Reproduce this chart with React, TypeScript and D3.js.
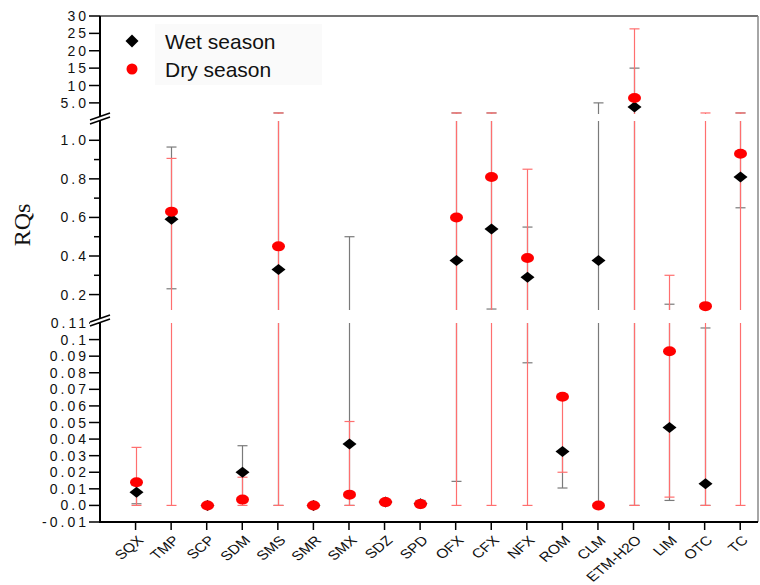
import React, { useEffect, useRef } from 'react';
import * as d3 from 'd3';

// Categories along the x axis
const categories = ['SQX', 'TMP', 'SCP', 'SDM', 'SMS', 'SMR', 'SMX', 'SDZ', 'SPD', 'OFX', 'CFX', 'NFX', 'ROM', 'CLM', 'ETM-H2O', 'LIM', 'OTC', 'TC'];

// Wet season (black diamonds) with low / high error whiskers
const wetValues = [0.008, 0.59, 0, 0.02, 0.33, 0, 0.037, 0.002, 0.001, 0.377, 0.54, 0.29, 0.0325, 0.377, 3.8, 0.047, 0.013, 0.81];
const wetLow = [0.001, 0.23, 0, 0.004, 0, 0, 0, 0.001, 0, 0.0145, 0.125, 0.086, 0.0105, 0, 0, 0.003, 0, 0.65];
const wetHigh = [0.012, 0.965, 0, 0.036, 2.1, 0, 0.5, 0.003, 0.003, 2.1, 2.1, 0.55, 0.0325, 5.0, 15, 0.15, 0.107, 2.1];

// Dry season (red circles) with low / high error whiskers
const dryValues = [0.014, 0.63, 0, 0.0035, 0.45, 0, 0.0065, 0.002, 0.0008, 0.6, 0.81, 0.39, 0.0655, 0, 6.4, 0.093, 0.14, 0.93];
const dryLow = [0, 0, 0, 0, 0, 0, 0, 0.001, 0, 0, 0, 0, 0.02, 0, 0, 0.005, 0, 0];
const dryHigh = [0.035, 0.906, 0, 0.017, 2.1, 0, 0.0506, 0.003, 0.001, 2.1, 2.1, 0.85, 0.0655, 0, 26.3, 0.3, 2.1, 2.1];

// Tick values and labels for the three y segments
const topTicks = [5, 10, 15, 20, 25, 30];
const topTickLabels = ['5.0', '10', '15', '20', '25', '30'];
const midTicks = [0.2, 0.4, 0.6, 0.8, 1.0];
const midTickLabels = ['0.2', '0.4', '0.6', '0.8', '1.0'];
const midMinorTicks = [0.3, 0.5, 0.7, 0.9];
const lowTicks = [-0.01, 0, 0.01, 0.02, 0.03, 0.04, 0.05, 0.06, 0.07, 0.08, 0.09, 0.1, 0.11];
const lowTickLabels = ['-0.01', '0.0', '0.01', '0.02', '0.03', '0.04', '0.05', '0.06', '0.07', '0.08', '0.09', '0.1', '0.11'];

const FONT = '"Liberation Sans", Arial, Helvetica, sans-serif';

export default function App() {
    const ref = useRef<SVGSVGElement>(null);

    useEffect(() => {
        const svg = d3.select(ref.current);
        svg.selectAll('*').remove();

        const left = 100;
        const right = 758;
        const top = 16;
        const bottom = 522;

        // broken y axis: three stacked linear scales
        const yLow = d3.scaleLinear().domain([-0.01, 0.11]).range([bottom, 323]);
        const yMid = d3.scaleLinear().domain([0.12, 1.1]).range([310, 121]);
        const yTop = d3.scaleLinear().domain([1.8, 30]).range([114, top]);
        const segs = [yLow, yMid, yTop];

        const yOf = (v: number) => {
            if (v <= 0.115) return yLow(v);
            if (v <= 1.45) return yMid(v);
            return yTop(v);
        };

        const x = d3.scaleLinear().domain([0, 18.5]).range([left, right]);
        const cx = (i: number) => x(i + 1);
        const px = (i: number) => Math.round(x(i + 1)) + 0.5; // crisp whisker lines

        // legend background (very faint)
        svg.append('rect')
            .attr('x', 155).attr('y', 24).attr('width', 167).attr('height', 61)
            .attr('fill', '#fafafa');

        // vertical error bar split across segments
        const errorBar = (g: any, xp: number, lo: number, hi: number, color: string) => {
            if (hi - lo <= 0) return;
            segs.forEach((s) => {
                const [d0, d1] = s.domain();
                const a = Math.max(lo, d0);
                const b = Math.min(hi, d1);
                if (a < b) {
                    g.append('line')
                        .attr('x1', xp).attr('x2', xp)
                        .attr('y1', s(a)).attr('y2', s(b))
                        .attr('stroke', color).attr('stroke-width', 1.2);
                }
            });
            [lo, hi].forEach((v) => {
                g.append('line')
                    .attr('x1', xp - 5).attr('x2', xp + 5)
                    .attr('y1', yOf(v)).attr('y2', yOf(v))
                    .attr('stroke', color).attr('stroke-width', 1.2);
            });
        };

        const bars = svg.append('g');
        categories.forEach((_, i) => {
            errorBar(bars, px(i), Math.min(wetLow[i], wetValues[i]), Math.max(wetHigh[i], wetValues[i]), '#7a7a7a');
        });
        categories.forEach((_, i) => {
            errorBar(bars, px(i), Math.min(dryLow[i], dryValues[i]), Math.max(dryHigh[i], dryValues[i]), '#ff6f6f');
        });

        const diamond = (x0: number, y0: number, w: number, h: number) =>
            `M${x0},${y0 - h}L${x0 + w},${y0}L${x0},${y0 + h}L${x0 - w},${y0}Z`;

        svg.append('g')
            .selectAll('path')
            .data(wetValues)
            .join('path')
            .attr('d', (d, i) => diamond(px(i), yOf(d), 7, 5.5))
            .attr('fill', '#000');

        svg.append('g')
            .selectAll('ellipse')
            .data(dryValues)
            .join('ellipse')
            .attr('cx', (d, i) => px(i))
            .attr('cy', (d) => yOf(d))
            .attr('rx', 6.5)
            .attr('ry', 5)
            .attr('fill', '#ff0000');

        // frame
        svg.append('line').attr('x1', left).attr('x2', right).attr('y1', top).attr('y2', top)
            .attr('stroke', '#444').attr('stroke-width', 1.5);
        svg.append('line').attr('x1', right).attr('x2', right).attr('y1', top).attr('y2', bottom)
            .attr('stroke', '#888').attr('stroke-width', 1.5);
        svg.append('line').attr('x1', left).attr('x2', left).attr('y1', top).attr('y2', bottom + 1)
            .attr('stroke', '#000').attr('stroke-width', 2);
        svg.append('line').attr('x1', left - 1).attr('x2', right).attr('y1', bottom).attr('y2', bottom)
            .attr('stroke', '#000').attr('stroke-width', 2);

        // y ticks and labels
        const yAxis = svg.append('g').attr('font-family', FONT).attr('font-size', 14).attr('fill', '#111');
        const addTicks = (scale: any, ticks: number[], labels: string[]) => {
            ticks.forEach((t, k) => {
                const yy = scale(t);
                yAxis.append('line').attr('x1', 89).attr('x2', left).attr('y1', yy).attr('y2', yy)
                    .attr('stroke', '#000').attr('stroke-width', 1.5);
                yAxis.append('text')
                    .attr('x', 89).attr('y', yy).attr('dy', '0.36em')
                    .attr('text-anchor', 'end')
                    .attr('letter-spacing', 3)
                    .text(labels[k]);
            });
        };
        addTicks(yTop, topTicks, topTickLabels);
        addTicks(yMid, midTicks, midTickLabels);
        addTicks(yLow, lowTicks, lowTickLabels);
        midMinorTicks.forEach((t) => {
            yAxis.append('line').attr('x1', 94).attr('x2', left).attr('y1', yMid(t)).attr('y2', yMid(t))
                .attr('stroke', '#000').attr('stroke-width', 1.5);
        });

        // axis break marks
        [117, 319].forEach((yc) => {
            const g = svg.append('g');
            g.append('path')
                .attr('d', `M90,${yc + 3}L110,${yc - 4}L110,${yc}L90,${yc + 7}Z`)
                .attr('fill', '#fff');
            g.append('line').attr('x1', 90).attr('y1', yc + 3).attr('x2', 110).attr('y2', yc - 4)
                .attr('stroke', '#000').attr('stroke-width', 1.5);
            g.append('line').attr('x1', 90).attr('y1', yc + 7).attr('x2', 110).attr('y2', yc)
                .attr('stroke', '#000').attr('stroke-width', 1.5);
        });

        // x ticks and rotated labels (slightly stretched, like the original)
        const xAxis = svg.append('g').attr('font-family', FONT).attr('font-size', 13).attr('fill', '#111');
        categories.forEach((c, i) => {
            xAxis.append('line').attr('x1', cx(i)).attr('x2', cx(i)).attr('y1', bottom).attr('y2', bottom + 8)
                .attr('stroke', '#000').attr('stroke-width', 1.5);
            xAxis.append('text')
                .attr('transform', `translate(${cx(i) + 5},${bottom + 16}) scale(1.2,1) rotate(-45)`)
                .attr('text-anchor', 'end')
                .attr('dy', '0.35em')
                .text(c);
        });

        // y axis title
        svg.append('text')
            .attr('transform', 'translate(30,225) rotate(-90)')
            .attr('text-anchor', 'middle')
            .attr('font-family', '"Liberation Serif", "Times New Roman", serif')
            .attr('font-size', 24)
            .attr('fill', '#111')
            .text('RQs');

        // legend
        const legend = svg.append('g').attr('font-family', FONT).attr('font-size', 21).attr('fill', '#111');
        legend.append('path').attr('d', diamond(132, 41, 6.5, 6.5)).attr('fill', '#000');
        legend.append('text').attr('x', 165).attr('y', 41).attr('dy', '0.36em').text('Wet season');
        legend.append('circle').attr('cx', 132).attr('cy', 69).attr('r', 5.5).attr('fill', '#ff0000');
        legend.append('text').attr('x', 165).attr('y', 69).attr('dy', '0.36em').text('Dry season');
    }, []);

    return (
        <svg
            ref={ref}
            width={760}
            height={585}
            style={{ position: 'absolute', left: 0, top: 0, background: 'white' }}
        />
    );
}
